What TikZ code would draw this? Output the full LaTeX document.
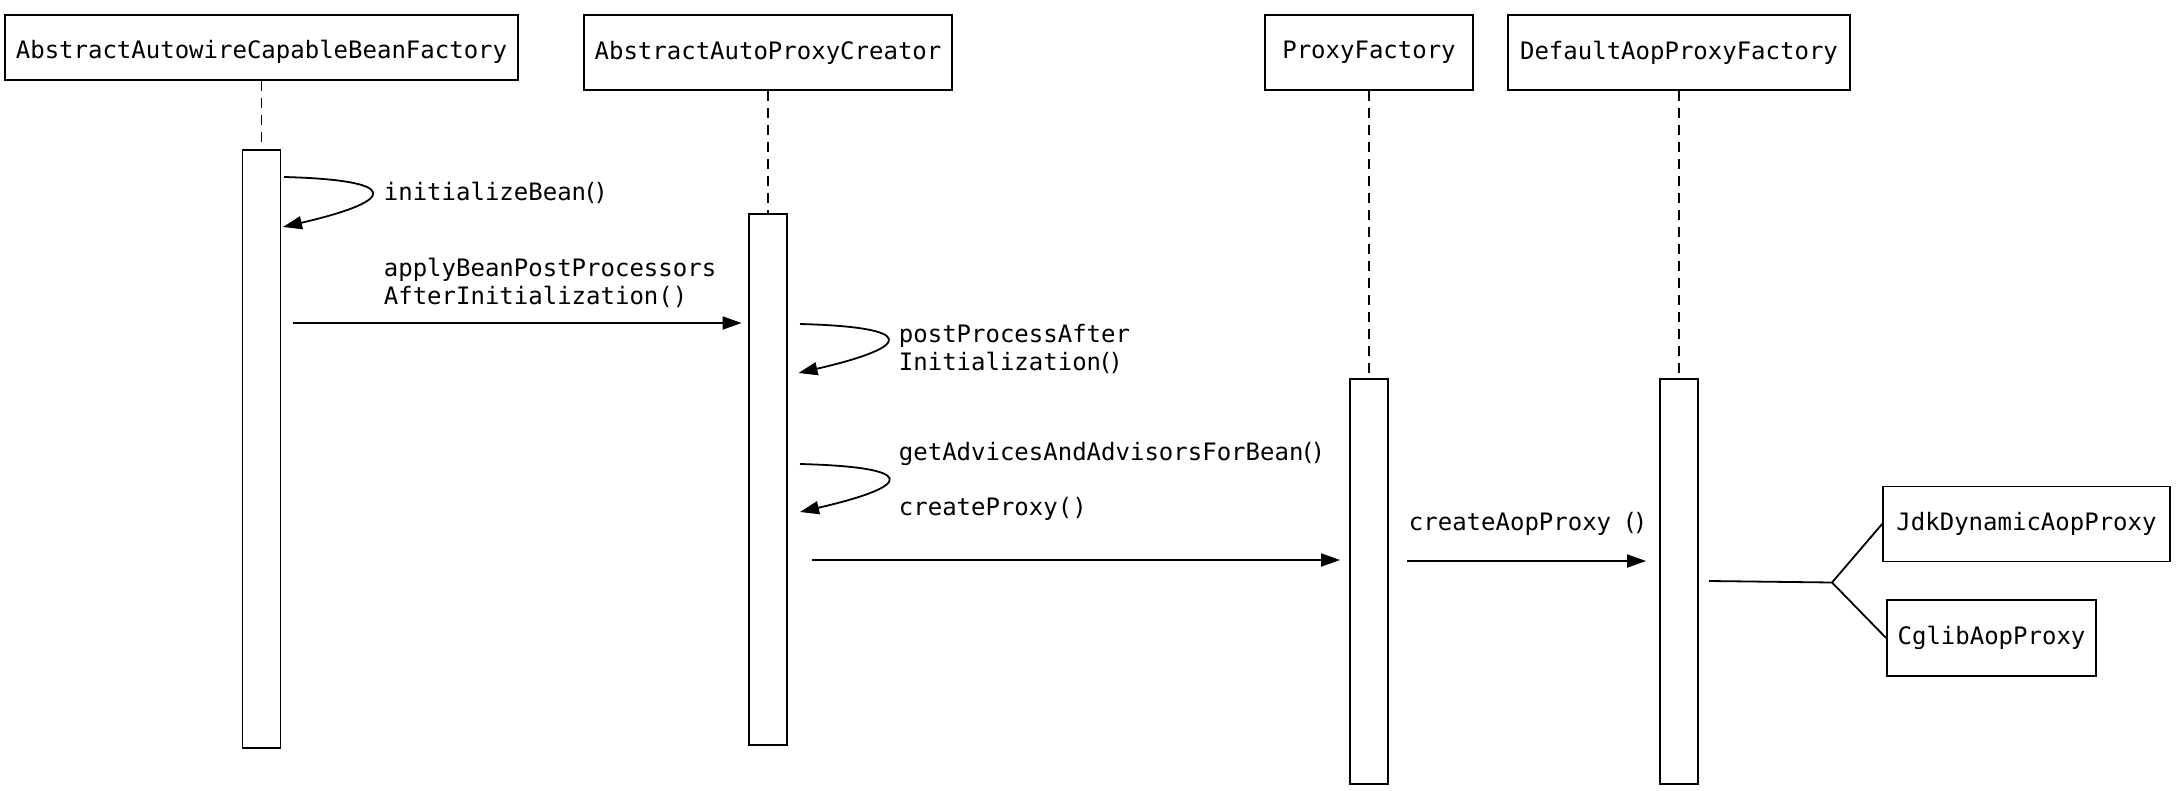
\documentclass[tikz,border=0pt]{standalone}
\usepackage{fontspec}
\setmonofont{DejaVu Sans Mono}
\newfontfamily\parfont{DejaVu Sans}
\newcommand{\pp}{{\parfont()}}
\usetikzlibrary{arrows.meta,positioning}
\tikzset{
    obj/.style={draw,rectangle,inner sep=0pt,font=\ttfamily\fontsize{24}{28}\selectfont},
    bar/.style={draw,rectangle,fill=white,inner sep=0pt,minimum width=38pt},
    lifeline/.style={dash pattern=on 10pt off 7pt},
    msg/.style={font=\ttfamily\fontsize{24}{28}\selectfont,anchor=west,align=left,inner sep=0pt}
}

\begin{document}
\begin{tikzpicture}[x=1pt,y=-1pt,>={Triangle[length=19pt,width=13pt]},line width=1.8pt]
                        \useasboundingbox (0,0) rectangle (2176,790);
                        % objects
                        \node[obj,minimum width=513pt,minimum height=65pt] (o1) at (261.5,47.5) {\raisebox{-4pt}[\height][\depth]{AbstractAutowireCapableBeanFactory}};
                        \node[obj,minimum width=368pt,minimum height=75pt] (o2) at (768,52.5) {AbstractAutoProxyCreator};
                        \node[obj,minimum width=208pt,minimum height=75pt] (o3) at (1369,52.5) {ProxyFactory};
                        \node[obj,minimum width=342pt,minimum height=75pt] (o4) at (1679,52.5) {DefaultAopProxyFactory};
                        \node[obj,minimum width=287pt,minimum height=75pt] (jdk) at (2026.5,524) {JdkDynamicAopProxy};
                        \node[obj,minimum width=209pt,minimum height=76pt] (cglib) at (1991.5,638) {CglibAopProxy};
                        % activation bars
                        \node[bar,minimum height=598pt] (b1) at (261.5,449) {};
                        \node[bar,minimum height=531pt] (b2) at (768,479.5) {};
                        \node[bar,minimum height=405pt] (b3) at (1369,581.5) {};
                        \node[bar,minimum height=405pt] (b4) at (1679,581.5) {};
                        \draw[lifeline] (o1) -- (b1);
                        \draw[lifeline] (o2) -- (b2);
                        \draw[lifeline] (o3) -- (b3);
                        \draw[lifeline] (o4) -- (b4);
                        % message levels
                        \coordinate (m1) at (0,323);
                        \coordinate (m2) at (0,560);
                        \coordinate (m3) at (0,561);
                        \coordinate (s1a) at (284,177);
                        \coordinate (s1b) at (283,227);
                        \coordinate (s2a) at (800,324);
                        \coordinate (s2b) at (798.5,373);
                        \coordinate (s3a) at (800,464);
                        \coordinate (s3b) at (800,512);
                        \coordinate (fs) at (1709,581);
                        \coordinate (fork) at (1832,582.5);
                        % messages
                        \draw[->] (s1a) .. controls +(116,3) and +(117,-27) .. (s1b);
                        \draw[->] (s2a) .. controls +(116,3) and +(117,-27) .. (s2b);
                        \draw[->] (s3a) .. controls +(116,3) and +(117,-27) .. (s3b);
                        \draw[->,shorten <=12pt,shorten >=6.5pt] (b1.east |- m1) -- (b2.west |- m1);
                        \draw[->,shorten <=24.5pt,shorten >=9pt] (b2.east |- m2) -- (b3.west |- m2);
                        \draw[->,shorten <=18.5pt,shorten >=13pt] (b3.east |- m3) -- (b4.west |- m3);
                        \draw (fs) -- (fork) -- (jdk.west);
                        \draw (fork) -- (cglib.west);
                        % labels
                        \node[msg] (l1) at (383,193) {initializeBean\pp};
                        \node[msg] (l2) at (383,283) {applyBeanPostProcessors\\AfterInitialization()};
                        \node[msg] (l3) at (898,349) {postProcessAfter\\Initialization\pp};
                        \node[msg] (l4) at (898,454) {getAdvicesAndAdvisorsForBean\pp};
                        \node[msg] (l5) at (898,509) {createProxy()};
                        \node[msg] (l6) at (1408,524) {createAopProxy \pp};
                    \end{tikzpicture}
\end{document}
